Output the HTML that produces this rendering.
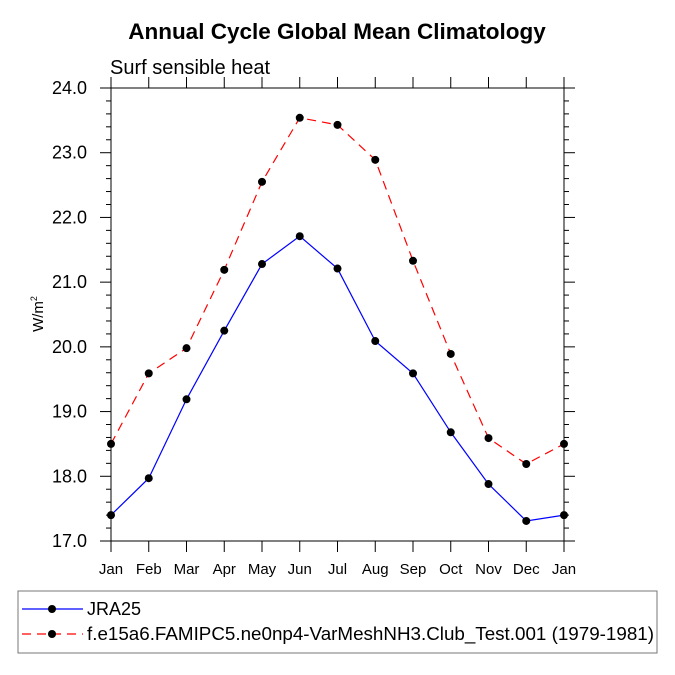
<!DOCTYPE html>
<html><head><meta charset="utf-8"><style>
html,body{margin:0;padding:0;background:#fff;}
svg{display:block;font-family:"Liberation Sans",Arial,sans-serif;}
</style></head><body>
<svg id="chart" width="675" height="675" viewBox="0 0 675 675" xmlns="http://www.w3.org/2000/svg">
<text x="337" y="39" text-anchor="middle" font-size="22.5" font-weight="bold">Annual Cycle Global Mean Climatology</text>
<text x="110" y="74" font-size="20">Surf sensible heat</text>
<text transform="translate(43,314) rotate(-90)" text-anchor="middle" font-size="15">W/m<tspan font-size="9" dy="-6">2</tspan></text>
<rect x="111" y="88" width="453" height="453" fill="none" stroke="#000" stroke-width="1"/>
<g id="axes"></g>
<g id="series"></g>
<rect x="18" y="591" width="639" height="62" fill="#fff" stroke="#777"/>
<g>
<line x1="22" y1="609" x2="83" y2="609" stroke="#0000ff" stroke-width="1.2"/>
<circle cx="52" cy="609" r="4" fill="#000"/>
<text x="87" y="615" font-size="18">JRA25</text>
</g>
<g>
<line x1="22" y1="634" x2="83" y2="634" stroke="#ff0000" stroke-width="1.2" stroke-dasharray="9,6"/>
<circle cx="52" cy="634" r="4" fill="#000"/>
<text x="87" y="640" font-size="18" textLength="567" lengthAdjust="spacingAndGlyphs">f.e15a6.FAMIPC5.ne0np4-VarMeshNH3.Club_Test.001 (1979-1981)</text>
</g>
</svg>
<script>
const months = ["Jan","Feb","Mar","Apr","May","Jun","Jul","Aug","Sep","Oct","Nov","Dec","Jan"];
const jra25 = [17.40,17.97,19.19,20.25,21.28,21.71,21.21,20.09,19.59,18.68,17.88,17.31,17.40];
const model = [18.50,19.59,19.98,21.19,22.55,23.54,23.43,22.89,21.33,19.89,18.59,18.19,18.50];
const yTicks = ["17.0","18.0","19.0","20.0","21.0","22.0","23.0","24.0"];
const NS="http://www.w3.org/2000/svg";
const X0=111,X1=564,Y0=541,Y1=88,YMIN=17,YMAX=24;
function xs(i){return X0+(X1-X0)*i/(months.length-1);}
function ys(v){return Y0-(v-YMIN)/(YMAX-YMIN)*(Y0-Y1);}
function mk(t,a,p){const e=document.createElementNS(NS,t);for(const k in a)e.setAttribute(k,a[k]);p.appendChild(e);return e;}
const ax=document.getElementById('axes');
months.forEach((m,i)=>{
  const x=xs(i);
  const l1=mk('line',{x1:x,y1:Y0,x2:x,y2:Y0+11,stroke:'#000'},ax);
  
  
  const l2=mk('line',{x1:x,y1:Y1,x2:x,y2:Y1-11,stroke:'#000'},ax);
  
  
  const t=mk('text',{x:x,y:Y0+33,'text-anchor':'middle','font-size':15},ax);
  t.textContent=m;
  
  
});
for(let v=YMIN;v<=YMAX+1e-9;v+=0.2){
  const y=ys(v);const major=Math.abs(v-Math.round(v))<1e-6;const len=major?11:5;
  const a=mk('line',{x1:X0,y1:y,x2:X0-len,y2:y,stroke:'#000'},ax);
  
  
  const b=mk('line',{x1:X1,y1:y,x2:X1+len,y2:y,stroke:'#000'},ax);
  
  
}
yTicks.forEach(s=>{
  const t=mk('text',{x:X0-24,y:ys(parseFloat(s))+6,'text-anchor':'end','font-size':18},ax);
  t.textContent=s;
  
  
});
const sg=document.getElementById('series');
function draw(vals,color,dash,name){
  const pts=vals.map((v,i)=>xs(i)+','+ys(v)).join(' ');
  const pl=mk('polyline',{points:pts,fill:'none',stroke:color,'stroke-width':1.2},sg);
  if(dash)pl.setAttribute('stroke-dasharray',dash);
  
  
  vals.forEach((v,i)=>{
    const c=mk('circle',{cx:xs(i),cy:ys(v),r:4,fill:'#000'},sg);
    
    
  });
}
draw(model,'#ff0000','9,6','model');
draw(jra25,'#0000ff',null,'jra25');
</script>
</body></html>
